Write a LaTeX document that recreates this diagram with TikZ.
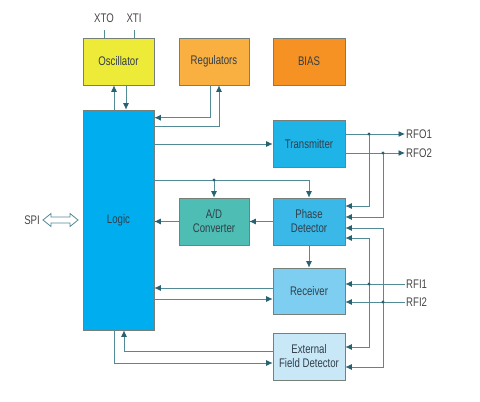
\documentclass[tikz,border=0pt]{standalone}
\usepackage{fontspec}
\setmainfont{Liberation Sans}[FakeStretch=0.77]
\usetikzlibrary{arrows.meta,calc}
\definecolor{linec}{RGB}{82,138,152}
\definecolor{tipc}{RGB}{40,98,112}
\definecolor{bordc}{RGB}{118,128,120}
\definecolor{txtc}{RGB}{50,62,74}
\definecolor{lblc}{RGB}{70,70,70}
\definecolor{oscc}{RGB}{238,234,56}
\definecolor{regc}{RGB}{249,176,64}
\definecolor{biasc}{RGB}{245,146,35}
\definecolor{logicc}{RGB}{0,174,239}
\definecolor{txc}{RGB}{30,180,232}
\definecolor{adcc}{RGB}{78,190,180}
\definecolor{pdc}{RGB}{58,185,232}
\definecolor{rxc}{RGB}{125,206,240}
\definecolor{efdc}{RGB}{200,232,248}
\tikzset{
  blk/.style={draw=bordc, line width=0.6pt, minimum width=72pt, minimum height=47pt,
    inner sep=1pt, align=center, text=txtc,
    font=\fontsize{12.5}{14}\selectfont},
  lbl/.style={text=lblc, inner sep=1pt, font=\fontsize{12.5}{14}\selectfont},
  ln/.style={draw=linec, line width=0.9pt},
  arr/.style={ln, -{Latex[length=6.5pt,width=6pt,color=tipc]}},
  jdot/.style={fill=tipc, circle, inner sep=0pt, minimum size=3.2pt}
}
\begin{document}
\begin{tikzpicture}[x=1pt,y=-1pt]
\useasboundingbox (0,0) rectangle (480,402);
% blocks
\node[blk, fill=oscc, minimum width=71pt] (osc) at (118.5,61.5) {Oscillator};
\node[blk, fill=regc, minimum width=70pt] (reg) at (214,61.5) {Regulators};
\node[blk, fill=biasc] (bias) at (309,61.5) {BIAS};
\node[blk, fill=logicc, minimum width=71pt, minimum height=220pt] (logic) at (118.5,220) {Logic};
\node[blk, fill=txc] (tx) at (309,144) {Transmitter};
\node[blk, fill=adcc, minimum width=70pt] (adc) at (214,221.5) {A/D\\Converter};
\node[blk, fill=pdc] (pd) at (309,221.5) {Phase\\Detector};
\node[blk, fill=rxc, minimum height=46pt] (rx) at (309,291) {Receiver};
\node[blk, fill=efdc] (efd) at (309,356.5) {External\\Field Detector};
% top labels
\node[lbl] (xto) at (104,18) {XTO};
\node[lbl] (xti) at (134,18) {XTI};
\coordinate (xtoe) at (104,30);
\coordinate (xtie) at (134,30);
\draw[ln] (xtoe) -- (xtoe |- osc.north);
\draw[ln] (xtie) -- (xtie |- osc.north);
% oscillator <-> logic
\draw[arr] ([xshift=-4.5pt]logic.north) -- ([xshift=-4.5pt]osc.south);
\draw[arr] ([xshift=7.5pt]osc.south) -- ([xshift=7.5pt]logic.north);
% regulators <-> logic
\draw[arr] ([xshift=-4pt]reg.south) |- ([yshift=-8pt]logic.north east);
\draw[arr] ([yshift=-17pt]logic.north east) -| ([xshift=5pt]reg.south);
% logic -> transmitter
\draw[arr] (logic.east |- tx.west) -- (tx.west);
% logic -> phase detector / adc
\coordinate (bus) at (214,180);
\draw[arr] (logic.east |- bus) -| (pd.north);
\draw[arr] (bus) -- (adc.north);
\node[jdot] at (bus) {};
\draw[arr] (adc.west) -- (adc.west -| logic.east);
\draw[arr] (pd.west) -- (adc.east);
\draw[arr] (pd.south) -- (rx.north);
% receiver <-> logic
\draw[arr] ([yshift=3pt]rx.west) -- ([yshift=3pt]rx.west -| logic.east);
\draw[arr] ([yshift=-8pt]rx.west -| logic.east) -- ([yshift=-8pt]rx.west);
% efd <-> logic
\draw[arr] ([yshift=5.5pt]efd.west) -| ([xshift=5.5pt]logic.south);
\draw[arr] ([xshift=-4.5pt]logic.south) |- ([yshift=-6.5pt]efd.west);
% SPI
\node[lbl, anchor=east] (spi) at (41,220) {SPI};
\draw[draw=linec, line width=0.8pt, fill=white]
  (43,220) -- (51,213.5) -- (51,217) -- (70,217) -- (70,213.5) -- (78,220)
  -- (70,226.5) -- (70,223) -- (51,223) -- (51,226.5) -- cycle;
% RF outputs
\node[lbl, anchor=west] (rfo1) at (405,134) {RFO1};
\node[lbl, anchor=west] (rfo2) at (405,153) {RFO2};
\coordinate (j1) at (369,134);
\coordinate (j2) at (383,153);
\draw[arr] (tx.east |- rfo1) -- (rfo1.west);
\draw[arr] (tx.east |- rfo2) -- (rfo2.west);
\draw[arr] (j1) |- ([yshift=15.5pt]pd.east);
\draw[arr] (j2) |- ([yshift=4.5pt]pd.east);
\node[jdot] at (j1) {};
\node[jdot] at (j2) {};
% RF inputs
\node[lbl, anchor=west] (rfi1) at (405,284) {RFI1};
\node[lbl, anchor=west] (rfi2) at (405,302) {RFI2};
\coordinate (j3) at (369,284);
\coordinate (j4) at (383,302);
\draw[arr] (rfi1.west) -- (rfi1.west -| rx.east);
\draw[arr] (rfi2.west) -- (rfi2.west -| rx.east);
\draw[arr] (j3) |- ([yshift=-16.5pt]pd.east);
\draw[arr] (j4) |- ([yshift=-6.5pt]pd.east);
\draw[arr] (j3) |- ([yshift=9.5pt]efd.east);
\draw[arr] (j4) |- ([yshift=-10.5pt]efd.east);
\node[jdot] at (j3) {};
\node[jdot] at (j4) {};
\end{tikzpicture}
\end{document}
